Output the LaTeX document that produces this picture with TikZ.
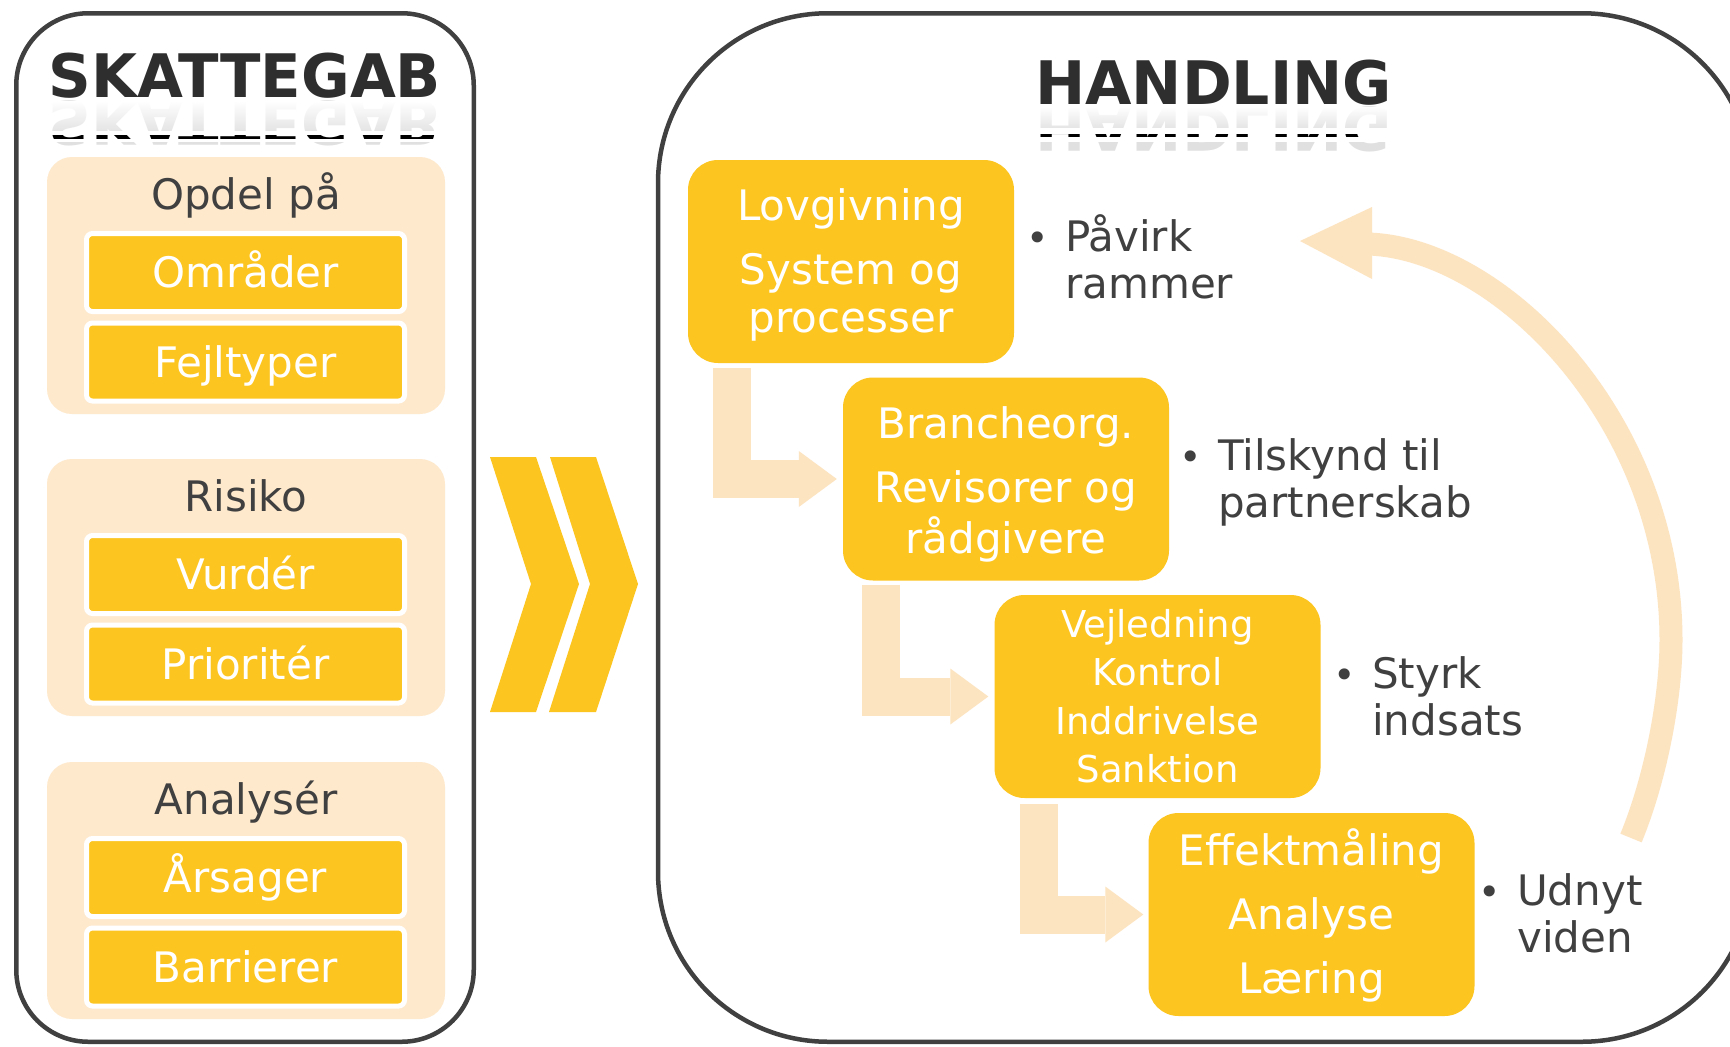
\documentclass[tikz,border=0pt]{standalone}
\usepackage{fontspec}
\setmainfont{DejaVu Sans}
\usetikzlibrary{calc,arrows.meta,fadings}
\definecolor{gold}{RGB}{253,197,32}
\definecolor{peach}{RGB}{254,233,204}
\definecolor{peachflow}{RGB}{253,228,192}
\definecolor{ink}{RGB}{64,64,64}
\definecolor{frameink}{RGB}{64,64,64}
\definecolor{titleink}{RGB}{46,46,46}
\tikzfading[name=reflfade, top color=transparent!0, bottom color=transparent!100]
\newcommand{\bmark}{\llap{{\fontsize{38}{38}\selectfont •}\hspace{16pt}}}
\begin{document}
\begin{tikzpicture}[x=1pt,y=-1pt,
  panel/.style={draw=frameink, line width=4.5pt, fill=white, inner sep=0pt},
  group/.style={fill=peach, rounded corners=25pt, minimum width=398pt, minimum height=257pt, inner sep=0pt},
  grouptitle/.style={anchor=base, text=ink, font=\fontsize{42}{48}\selectfont, inner sep=0pt},
  item/.style={fill=gold, draw=white, line width=5pt, rounded corners=6pt, minimum width=318pt, minimum height=78pt, inner sep=0pt, text=white, font=\fontsize{42}{48}\selectfont, text height=30.6pt, text depth=0pt},
  stepbox/.style={fill=gold, rounded corners=30pt, minimum width=326pt, minimum height=203pt, inner sep=0pt, text=white, font=\fontsize{42}{48}\selectfont, text height=30.6pt},
  note/.style={anchor=base west, text=ink, font=\fontsize{42}{47}\selectfont, inner sep=0pt},
  flow/.style={draw=peachflow, line width=38pt, -{Triangle[length=38pt,width=56pt,line width=0pt]}},
  title/.style={font=\fontsize{60}{72}\selectfont\bfseries, text=titleink, anchor=base, inner sep=0pt},
]
\useasboundingbox (0,0) rectangle (1730,1047);
\fill[white] (0,0) rectangle (1730,1047);
\begin{scope}
\clip (0,0) rectangle (1730,1047);

% panels
\node[panel, rounded corners=72pt, minimum width=457.5pt, minimum height=1028.5pt] (leftpanel) at (245,527.5) {};
\node[panel, rounded corners=170pt, minimum width=1094pt, minimum height=1028.5pt] (rightpanel) at (1205,527.5) {};

% titles with reflection
\node[title, xscale=0.988] (skattegab) at (245,97) {SKATTEGAB};
\node[title, xscale=0.988, yscale=-1, text=black!12] (skattegabrefl) at (245,101) {SKATTEGAB};
\fill[white, path fading=reflfade] (40,101) rectangle (450,136);
\fill[white] (40,131) rectangle (450,142);
\begin{scope}
\clip (40,135.5) rectangle (450,138.5);
\node[title, xscale=0.988, yscale=-1, text=black] (skattegabedge) at (245,101) {SKATTEGAB};
\end{scope}

\node[title] (handling) at (1213.5,104) {HANDLING};
\node[title, yscale=-1, text=black!12] (handlingrefl) at (1213.5,107) {HANDLING};
\fill[white, path fading=reflfade] (1020,107) rectangle (1410,132);
\fill[white] (1020,128) rectangle (1410,142);
\begin{scope}
\clip (1020,134) rectangle (1410,136.5);
\node[title, yscale=-1, text=black] (handlingedge) at (1213.5,107) {HANDLING};
\end{scope}

% left groups
\node[group] (g1) at (246,285.5) {};
\node[group] (g2) at (246,587.5) {};
\node[group] (g3) at (246,890.5) {};
\node[grouptitle] (opdel) at (246,209) {Opdel på};
\node[grouptitle] (risiko) at (246,511) {Risiko};
\node[grouptitle] (analyser) at (246,814) {Analysér};
\node[item] (omraader) at (245.5,272.5) {Områder};
\node[item] (fejltyper) at (245.5,362) {Fejltyper};
\node[item] (vurder) at (245.5,574.5) {Vurdér};
\node[item] (prioriter) at (245.5,664) {Prioritér};
\node[item] (aarsager) at (245.5,877.5) {Årsager};
\node[item] (barrierer) at (245.5,967) {Barrierer};

% chevrons
\fill[gold] (490,457) -- (536,457) -- (579,584) -- (536,712) -- (490,712) -- (531,584) -- cycle;
\fill[gold] (550,457) -- (596,457) -- (638,584) -- (596,712) -- (549,712) -- (590,584) -- cycle;

% step boxes
\node[stepbox, text depth=112pt] (b1) at (851,261.5) {\begin{tabular}[t]{@{}c@{}}Lovgivning\\[16pt]System og\\processer\end{tabular}};
\node[stepbox, text depth=112pt] (b2) at (1006,479) {\begin{tabular}[t]{@{}c@{}}Brancheorg.\\[16pt]Revisorer og\\rådgivere\end{tabular}};
\node[stepbox, font=\fontsize{37}{48.6}\selectfont, text height=27pt, text depth=145.8pt] (b3) at (1157.5,696.5) {\begin{tabular}[t]{@{}c@{}}Vejledning\\Kontrol\\Inddrivelse\\Sanktion\end{tabular}};
\node[stepbox, text depth=128pt] (b4) at (1311.5,914.5) {\begin{tabular}[t]{@{}c@{}}Effektmåling\\[16pt]Analyse\\[16pt]Læring\end{tabular}};

% flow arrows
\draw[flow] ($(b1.south west)+(44,5)$) |- ($(b2.west)+(-6,0)$);
\draw[flow] ($(b2.south west)+(38,4)$) |- ($(b3.west)+(-6,0)$);
\draw[flow] ($(b3.south west)+(45,6)$) |- ($(b4.west)+(-5,0)$);

% notes
\node[note] (n1) at (1065,251) {\begin{tabular}[t]{@{}l@{}}\bmark Påvirk\\rammer\end{tabular}};
\node[note] (n2) at (1218,470) {\begin{tabular}[t]{@{}l@{}}\bmark Tilskynd til\\partnerskab\end{tabular}};
\node[note] (n3) at (1372,688) {\begin{tabular}[t]{@{}l@{}}\bmark Styrk\\indsats\end{tabular}};
\node[note] (n4) at (1517,905) {\begin{tabular}[t]{@{}l@{}}\bmark Udnyt\\viden\end{tabular}};

% feedback loop arrow
\coordinate (loopfoot) at (1631,838);
\coordinate (loopneck) at (1368,244);
\coordinate (looptip) at (1300,241);
\draw[peachflow, line width=23pt] (loopfoot) .. controls (1655,780) and (1671,700) .. (1671,640) .. controls (1671,420) and (1500,248) .. (loopneck);
\fill[peachflow] (1372,207) -- (1372,279) -- (looptip) -- cycle;
\end{scope}
\end{tikzpicture}
\end{document}
